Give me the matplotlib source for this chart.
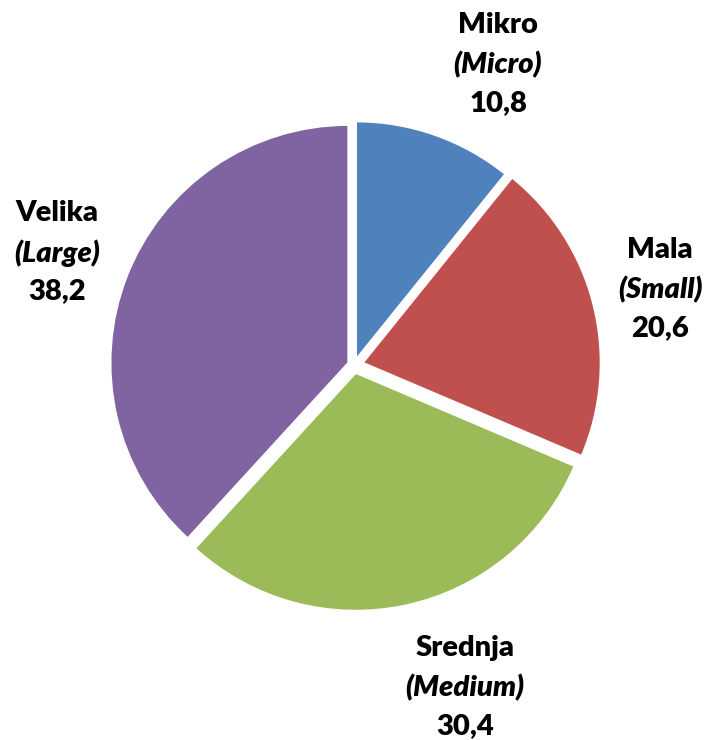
import matplotlib.pyplot as plt

# udjeli po velicini poduzeca
kategorije = ["Mikro", "Mala", "Srednja", "Velika"]
prijevodi = ["Micro", "Small", "Medium", "Large"]
udjeli = [10.8, 20.6, 30.4, 38.2]
boje = ["#4F81BD", "#C0504D", "#9BBB59", "#8064A2"]

plt.rcParams['font.family'] = ['Lato', 'DejaVu Sans']

fig = plt.figure(figsize=(7.18, 7.40), dpi=100)
ax = fig.add_axes([0, 0, 1, 1])

# koordinate u pikselima (y od dna); explode je u istim jedinicama
ax.pie(udjeli, colors=boje, startangle=90, counterclock=False,
       center=(354, 740 - 365), radius=238,
       explode=[6, 9, 8, 6],
       wedgeprops=dict(edgecolor="white", linewidth=1.5))

ax.set_xlim(0, 718)
ax.set_ylim(0, 740)
ax.set_aspect("equal")
ax.axis("off")

# polozaji natpisa (x, y prvog retka) u pikselima
pozicije = [(498, 25), (660, 250), (465, 648), (57, 213)]
razmak = [40, 38]
stil = dict(ha="center", va="center", fontsize=21, fontweight="heavy")
for kat, prev, v, (x, y) in zip(kategorije, prijevodi, udjeli, pozicije):
    ax.text(x, 740 - y, kat, **stil)
    ax.text(x, 740 - y - razmak[0], f"({prev})", fontstyle="italic", **stil)
    ax.text(x, 740 - y - razmak[0] - razmak[1], f"{v:.1f}".replace(".", ","), **stil)

fig.savefig("out.png", dpi=100)
